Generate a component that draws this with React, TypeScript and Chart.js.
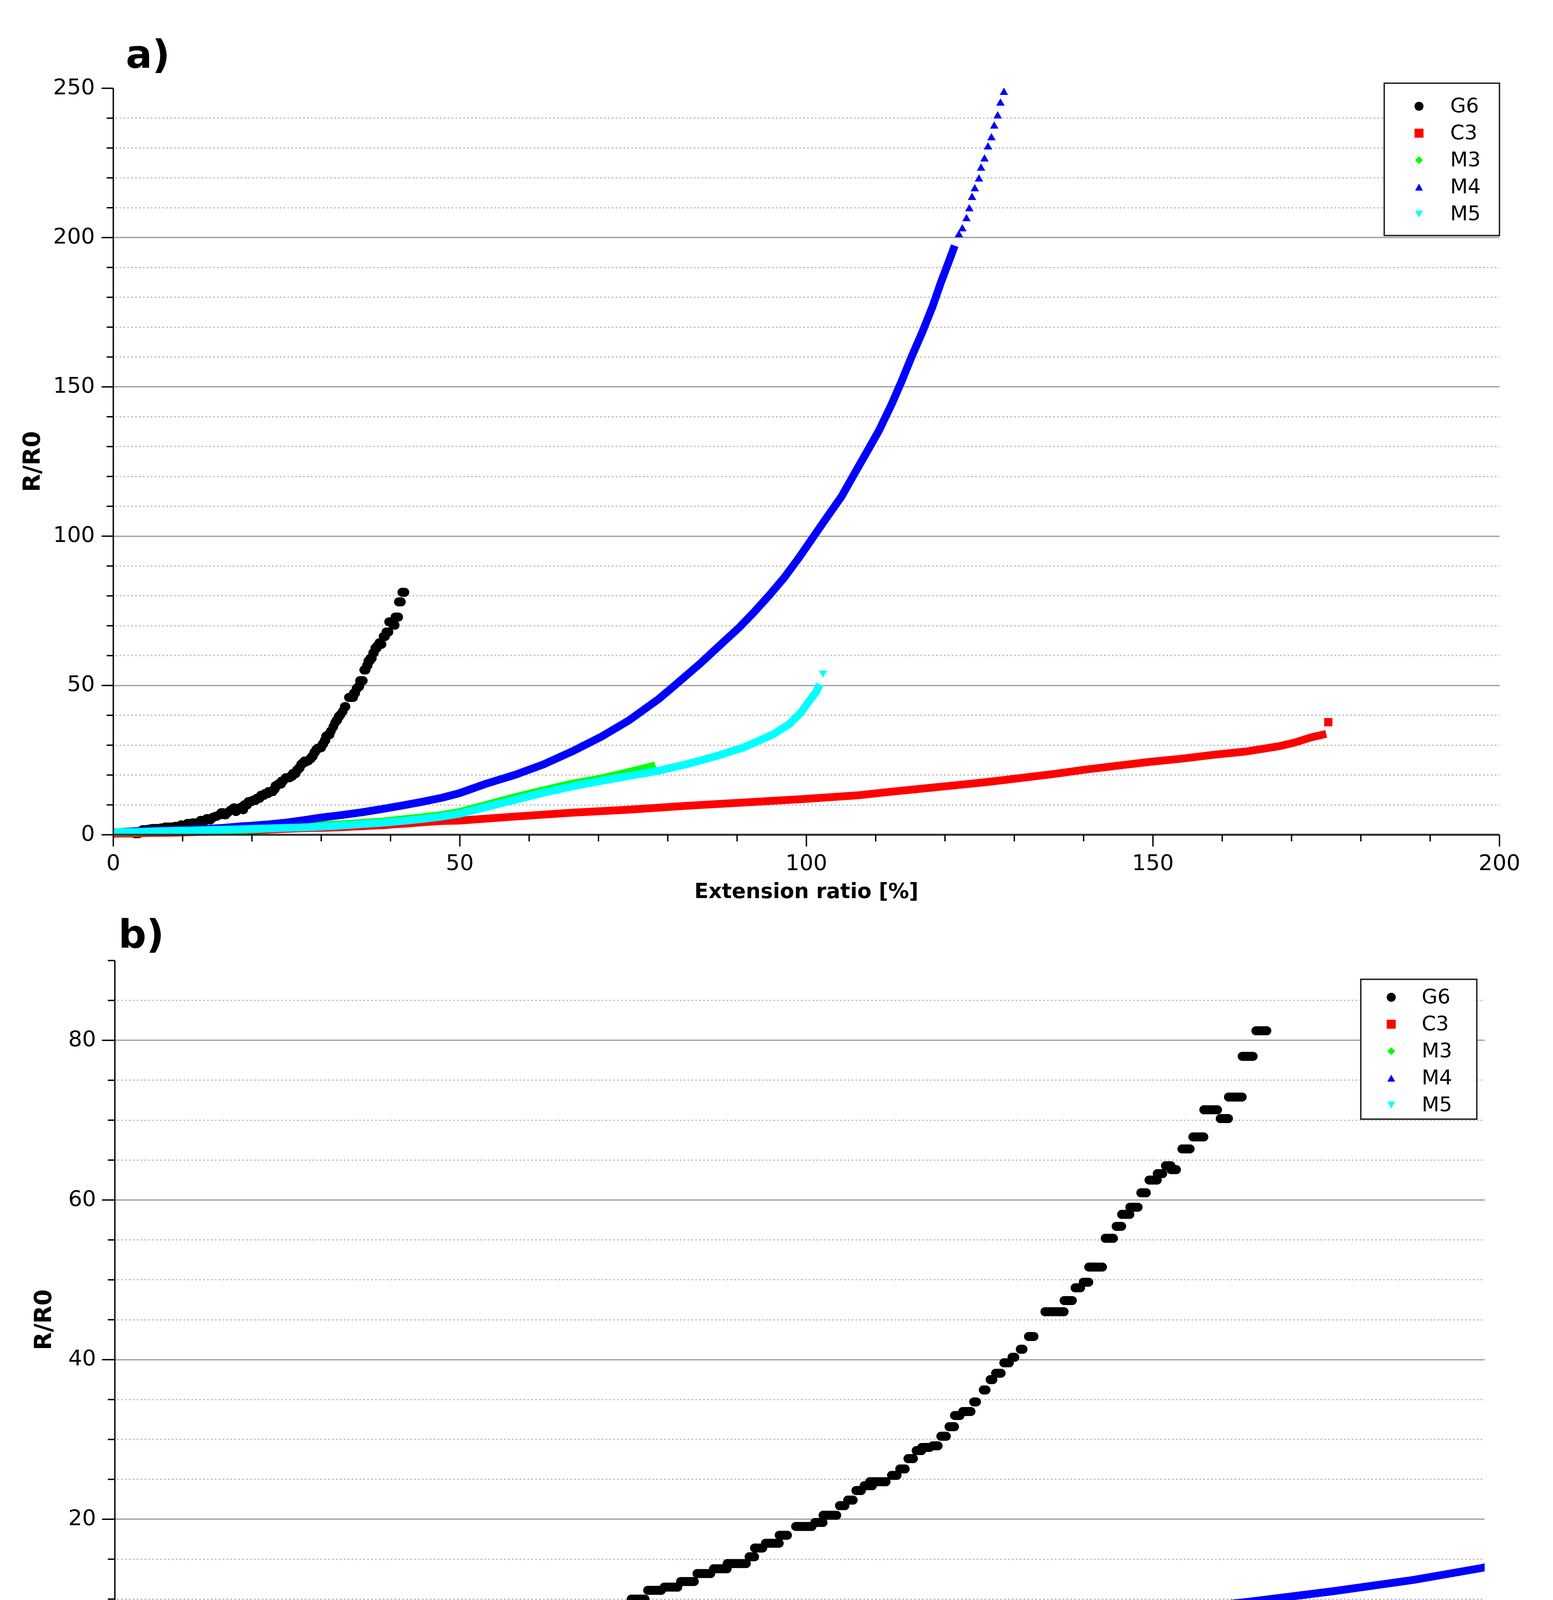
import React, { useEffect, useRef } from 'react';
import { Chart, registerables } from 'chart.js';

Chart.register(...registerables);

const FONT = "'DejaVu Sans', Verdana, sans-serif";

// ---------- series meta ----------
const seriesNames = ['G6', 'C3', 'M3', 'M4', 'M5'];
const seriesColors = ['#000000', '#ff0000', '#00ff00', '#0000ff', '#00ffff'];
const seriesMarkers = ['circle', 'square', 'diamond', 'up', 'down'];

// ---------- G6: runs of equal R/R0 (start x, end x, value) ----------
const g6Start = [3.15, 4.2, 5.1, 5.55, 6.85, 7.45, 8.6, 8.85, 9.75, 10.15, 10.65, 11.45, 12.05, 12.55, 12.95, 13.45, 13.95, 14.35, 14.75, 15.25, 15.55, 16.05, 16.5, 16.85, 17.35, 17.65, 18.05, 18.35, 18.7, 18.85, 19.45, 20.05, 20.65, 21.25, 21.85, 22.35, 23.15, 23.35, 23.75, 24.25, 24.85, 25.55, 25.85, 26.45, 26.75, 27.05, 27.35, 27.55, 28.35, 28.65, 28.95, 29.25, 29.45, 29.85, 30.15, 30.45, 30.65, 30.95, 31.35, 31.7, 31.95, 32.15, 32.45, 32.75, 33.05, 33.35, 33.95, 34.65, 35.05, 35.35, 35.55, 36.15, 36.55, 36.75, 37.05, 37.45, 37.75, 38.05, 38.35, 38.55, 38.95, 39.35, 39.75, 40.35, 40.65, 41.15, 41.65];
const g6End = [3.65, 4.8, 5.65, 6.35, 7.15, 8.35, 8.6, 9.45, 9.85, 10.45, 11.15, 11.75, 12.25, 12.75, 13.15, 13.65, 14.05, 14.55, 14.95, 15.45, 15.85, 16.25, 16.6, 17.05, 17.55, 17.75, 18.15, 18.45, 18.8, 19.35, 19.95, 20.55, 21.15, 21.75, 22.35, 23.05, 23.35, 23.65, 24.25, 24.55, 25.45, 25.85, 26.35, 26.65, 26.95, 27.25, 27.65, 28.15, 28.55, 28.85, 29.15, 29.45, 29.75, 30.05, 30.35, 30.65, 30.85, 31.25, 31.45, 31.8, 32.05, 32.35, 32.65, 32.85, 33.15, 33.55, 34.65, 34.95, 35.25, 35.55, 36.05, 36.45, 36.75, 37.05, 37.35, 37.65, 38.05, 38.25, 38.55, 38.75, 39.25, 39.75, 40.25, 40.65, 41.15, 41.55, 42.05];
const g6Val = [0.35, 1.7, 1.9, 2.1, 2.3, 2.6, 2.2, 2.8, 3.3, 3.0, 3.8, 4.0, 3.0, 4.8, 4.5, 5.4, 5.0, 5.9, 6.2, 6.7, 7.4, 6.7, 7.5, 8.2, 9.0, 7.8, 8.6, 9.2, 8.4, 10.0, 11.1, 11.5, 12.2, 13.2, 13.8, 14.45, 15.3, 16.4, 17.0, 18.0, 19.1, 19.6, 20.5, 21.7, 22.4, 23.6, 24.2, 24.7, 25.5, 26.3, 27.6, 28.6, 29.0, 29.2, 30.4, 31.6, 33.0, 33.5, 34.7, 36.2, 37.5, 38.3, 39.6, 40.3, 41.3, 42.9, 46.0, 47.4, 49.0, 49.7, 51.6, 55.2, 56.7, 58.2, 59.1, 60.9, 62.5, 63.3, 64.3, 63.8, 66.4, 67.9, 71.3, 70.2, 72.9, 78.0, 81.2];

// ---------- C3 ----------
const c3X = [0, 3.7, 4.8, 8.5, 11.2, 14.0, 15.9, 17.5, 21.0, 24.0, 27.0, 31.1, 32.9, 35.8, 37.3, 39.1, 40.5, 42.6, 44.8, 47.4, 49.9, 58.0, 66.2, 74.4, 82.7, 90.9, 99.2, 107.4, 112.2, 116.9, 121.6, 126.2, 130.9, 135.5, 140.2, 144.8, 149.5, 154.2, 158.8, 163.5, 168.1, 170.5, 172.8, 174.3, 175.0];
const c3Y = [0.4, 0.45, 0.6, 0.7, 0.85, 1.0, 1.15, 1.25, 1.6, 1.9, 2.2, 2.4, 2.55, 2.85, 3.05, 3.2, 3.5, 3.8, 4.2, 4.6, 4.75, 6.1, 7.4, 8.4, 9.7, 10.8, 11.9, 13.2, 14.4, 15.5, 16.6, 17.7, 19.0, 20.3, 21.8, 23.1, 24.4, 25.5, 26.8, 27.9, 29.6, 30.9, 32.6, 33.4, 33.8];
const c3LooseX = [175.3];
const c3LooseY = [37.7];

// ---------- M3 ----------
const m3X = [0, 5, 10, 15, 20, 24, 27.1, 32.9, 38.7, 41.6, 44.5, 47.4, 49.9, 53.8, 58.0, 62.1, 66.2, 70.3, 74.4, 77.7, 78.2];
const m3Y = [0.8, 0.9, 1.1, 1.4, 1.8, 2.3, 2.8, 3.5, 4.4, 5.1, 5.8, 6.6, 7.6, 10.0, 12.6, 14.9, 17.1, 18.8, 21.0, 22.9, 23.4];

// ---------- M4 ----------
const m4X = [0.5, 3.4, 5.8, 10, 12.6, 15.8, 18.3, 19.8, 22.5, 25, 27.1, 30, 32.9, 35.8, 38.7, 41.6, 44.5, 47.4, 49.9, 53.8, 58.0, 62.1, 66.2, 70.3, 74.4, 78.6, 80.6, 84.7, 86.0, 88.1, 90.3, 92.5, 94.6, 96.8, 98.9, 101.1, 103.1, 105.1, 106.9, 108.7, 110.5, 112.3, 113.8, 115.2, 116.7, 118.2, 119.4, 120.7, 121.4];
const m4Y = [0.9, 1.2, 1.4, 1.7, 1.9, 2.3, 2.8, 3.0, 3.5, 4.1, 4.75, 5.76, 6.6, 7.5, 8.6, 9.75, 11.0, 12.4, 13.9, 17.1, 20.1, 23.6, 27.9, 32.7, 38.3, 45.3, 49.2, 57.4, 60.2, 64.7, 69.4, 74.7, 80.1, 86.1, 92.7, 100.1, 106.8, 113.4, 120.8, 128.1, 135.5, 144.2, 152.2, 160.2, 168.2, 176.9, 184.9, 192.9, 197.3];
const m4LooseX = [122.0, 122.5, 123.1, 123.5, 123.9, 124.3, 124.9, 125.2, 125.7, 126.2, 126.7, 127.1, 127.6, 128.0, 128.5];
const m4LooseY = [200.9, 202.9, 206.3, 209.6, 213.4, 216.3, 219.6, 223.2, 226.3, 230.3, 233.4, 237.3, 240.7, 245.0, 248.6];

// ---------- M5 ----------
const m5X = [0, 3, 5.4, 8.7, 11.3, 14.2, 17.8, 19.8, 27.1, 30, 32.9, 35.8, 38.7, 41.6, 44.5, 47.4, 49.9, 53.8, 58.0, 62.1, 66.2, 70.3, 74.4, 78.6, 82.7, 86.8, 90.9, 95.1, 97.5, 99.2, 100.4, 101.4, 101.9];
const m5Y = [0.9, 0.9, 1.1, 1.3, 1.4, 1.6, 1.8, 1.95, 2.45, 2.7, 3.1, 3.55, 4.0, 4.6, 5.25, 6.1, 7.0, 9.3, 11.7, 14.1, 16.2, 18.0, 19.7, 21.4, 23.6, 26.2, 29.2, 33.5, 37.0, 40.9, 44.8, 47.8, 50.4];
const m5LooseX = [102.4];
const m5LooseY = [54.2];

// ---------- axes ----------
const xTicksA = [0, 50, 100, 150, 200];
const yTicksA = [0, 50, 100, 150, 200, 250];
const xTicksB = [0, 10, 20, 30, 40, 50];
const yTicksB = [0, 20, 40, 60, 80];
const xTitle = 'Extension ratio [%]';
const yTitle = 'R/R0';

const panels = [
  {
    key: 'a', label: 'a)', labelLeft: 322, labelTop: 90,
    top: 0, height: 2330,
    xMin: 0, xMax: 200, xTicks: xTicksA, xMajor: 50, xMinor: 10,
    yMin: 0, yMax: 250, yTicks: yTicksA, yMajor: 50, yMinor: 10,
    padTop: 226, padRight: 137, yAxisW: 290, xAxisH: 193,
    yTickPad: 47, xTickPad: 42,
    xTitleSize: 53, xTitlePad: 13, yTitleSize: 60, yTitlePad: 50,
    majorLen: 30, minorLen: 17,
    legLeft: 3543, legTop: 213, legW: 295, legH: 390, legMarkX: 3632, legTextX: 3712, legRow0: 272, legGap: 69,
  },
  {
    key: 'b', label: 'b)', labelLeft: 303, labelTop: 2342,
    top: 2330, height: 2203,
    xMin: 0, xMax: 50, xTicks: xTicksB, xMajor: 10, xMinor: 2,
    yMin: 0, yMax: 90, yTicks: yTicksB, yMajor: 20, yMinor: 5,
    padTop: 129, padRight: 175, yAxisW: 294, xAxisH: 235,
    yTickPad: 48, xTickPad: 48,
    xTitleSize: 61, xTitlePad: 48, yTitleSize: 60, yTitlePad: 79,
    majorLen: 33, minorLen: 18,
    legLeft: 3483, legTop: 177, legW: 297, legH: 358, legMarkX: 3561, legTextX: 3639, legRow0: 223, legGap: 69,
  },
];

const CLIP = { left: 0, top: 14, right: 0, bottom: 12 };

function pts(xs: number[], ys: number[]) {
  return xs.map((x, i) => ({ x, y: ys[i] }));
}

function buildDatasets() {
  const g6Data: any[] = [];
  for (let i = 0; i < g6Val.length; i++) {
    g6Data.push({ x: g6Start[i], y: g6Val[i] });
    g6Data.push({ x: g6End[i], y: g6Val[i] });
    g6Data.push({ x: g6End[i], y: null });
  }
  const band = (label: string, xs: number[], ys: number[], color: string, order: number) => ({
    label, data: pts(xs, ys), showLine: true, spanGaps: false,
    borderColor: color, backgroundColor: color, borderWidth: 20,
    borderJoinStyle: 'round', borderCapStyle: 'butt',
    pointRadius: 0, pointHoverRadius: 0, order, clip: CLIP,
  });
  const loose = (label: string, xs: number[], ys: number[], color: string, style: string, radius: number, rotation: number, order: number) => ({
    label, data: pts(xs, ys), showLine: false,
    borderColor: color, backgroundColor: color, borderWidth: 0,
    pointStyle: style, pointRadius: radius, pointRotation: rotation, pointHoverRadius: radius,
    order, clip: CLIP,
  });
  return [
    {
      label: 'G6', data: g6Data, showLine: true, spanGaps: false,
      borderColor: seriesColors[0], backgroundColor: seriesColors[0], borderWidth: 23,
      borderCapStyle: 'butt', pointStyle: 'circle', pointRadius: 11.5, pointHoverRadius: 11.5,
      pointBorderWidth: 0, order: 4, clip: CLIP,
    },
    band('C3', c3X, c3Y, seriesColors[1], 3),
    loose('C3 end', c3LooseX, c3LooseY, seriesColors[1], 'rect', 15, 0, 3),
    band('M3', m3X, m3Y, seriesColors[2], 2),
    band('M4', m4X, m4Y, seriesColors[3], 1),
    loose('M4 end', m4LooseX, m4LooseY, seriesColors[3], 'triangle', 12.5, 0, 1),
    band('M5', m5X, m5Y, seriesColors[4], 0),
    loose('M5 end', m5LooseX, m5LooseY, seriesColors[4], 'triangle', 12.5, 180, 0),
  ];
}

function isMultiple(v: number, step: number) {
  const r = v / step;
  return Math.abs(r - Math.round(r)) < 1e-6;
}

function drawMarker(ctx: CanvasRenderingContext2D, style: string, x: number, y: number, color: string) {
  ctx.fillStyle = color;
  ctx.beginPath();
  if (style === 'circle') {
    ctx.arc(x, y, 11.5, 0, Math.PI * 2);
  } else if (style === 'square') {
    ctx.rect(x - 11.5, y - 11.5, 23, 23);
  } else if (style === 'diamond') {
    ctx.moveTo(x, y - 10); ctx.lineTo(x + 10, y); ctx.lineTo(x, y + 10); ctx.lineTo(x - 10, y); ctx.closePath();
  } else if (style === 'up') {
    ctx.moveTo(x, y - 9); ctx.lineTo(x + 10, y + 9); ctx.lineTo(x - 10, y + 9); ctx.closePath();
  } else {
    ctx.moveTo(x, y + 9); ctx.lineTo(x + 10, y - 9); ctx.lineTo(x - 10, y - 9); ctx.closePath();
  }
  ctx.fill();
}

function makeDecor(p: any) {
  return {
    id: 'decor_' + p.key,
    beforeDatasetsDraw(chart: any) {
      const { ctx, chartArea: ca, scales } = chart;
      const ys = scales.y;
      ctx.save();
      ctx.strokeStyle = '#b4b4b4';
      ctx.lineWidth = 3;
      ctx.setLineDash([4, 6]);
      for (let i = 1; i * p.yMinor < p.yMax - 1e-6; i++) {
        const v = i * p.yMinor;
        if (isMultiple(v, p.yMajor)) continue;
        const py = Math.round(ys.getPixelForValue(v));
        ctx.beginPath(); ctx.moveTo(ca.left + 6, py); ctx.lineTo(ca.right, py); ctx.stroke();
      }
      ctx.setLineDash([]);
      ctx.strokeStyle = '#a4a4a4';
      ctx.lineWidth = 3.5;
      for (let i = 1; i * p.yMajor < p.yMax - 1e-6; i++) {
        const py = Math.round(ys.getPixelForValue(i * p.yMajor));
        ctx.beginPath(); ctx.moveTo(ca.left, py); ctx.lineTo(ca.right, py); ctx.stroke();
      }
      ctx.restore();
    },
    afterDatasetsDraw(chart: any) {
      const { ctx, chartArea: ca, scales } = chart;
      const xs = scales.x, ys = scales.y;
      const y0 = ys.getPixelForValue(p.yMin);
      ctx.save();
      // y axis
      ctx.strokeStyle = '#000';
      ctx.lineWidth = 3.5;
      ctx.beginPath(); ctx.moveTo(ca.left, y0); ctx.lineTo(ca.left, ys.getPixelForValue(p.yMax)); ctx.stroke();
      for (let i = 0; i * p.yMinor <= p.yMax + 1e-6; i++) {
        const v = i * p.yMinor;
        const len = isMultiple(v, p.yMajor) ? p.majorLen : p.minorLen;
        const py = ys.getPixelForValue(v);
        ctx.beginPath(); ctx.moveTo(ca.left - len, py); ctx.lineTo(ca.left, py); ctx.stroke();
      }
      // x axis
      ctx.strokeStyle = '#2c2c2c';
      ctx.lineWidth = 5;
      ctx.beginPath(); ctx.moveTo(ca.left, y0); ctx.lineTo(ca.right, y0); ctx.stroke();
      ctx.strokeStyle = '#000';
      ctx.lineWidth = 3.5;
      for (let i = 0; i * p.xMinor <= p.xMax + 1e-6; i++) {
        const v = i * p.xMinor;
        const len = isMultiple(v, p.xMajor) ? p.majorLen : p.minorLen;
        const px = xs.getPixelForValue(v);
        ctx.beginPath(); ctx.moveTo(px, y0); ctx.lineTo(px, y0 + len); ctx.stroke();
      }
      // legend box
      ctx.fillStyle = '#fff';
      ctx.fillRect(p.legLeft, p.legTop, p.legW, p.legH);
      ctx.strokeStyle = '#1a1a1a';
      ctx.lineWidth = 3.5;
      ctx.strokeRect(p.legLeft, p.legTop, p.legW, p.legH);
      ctx.font = '52px ' + FONT;
      ctx.textBaseline = 'middle';
      ctx.textAlign = 'left';
      for (let i = 0; i < seriesNames.length; i++) {
        const ry = p.legRow0 + i * p.legGap;
        drawMarker(ctx, seriesMarkers[i], p.legMarkX, ry, seriesColors[i]);
        ctx.fillStyle = '#000';
        ctx.fillText(seriesNames[i], p.legTextX, ry + 2);
      }
      ctx.restore();
    },
  };
}

function makeConfig(p: any): any {
  return {
    type: 'scatter',
    data: { datasets: buildDatasets() },
    options: {
      animation: false,
      responsive: false,
      devicePixelRatio: 1,
      events: [],
      layout: { padding: { top: p.padTop, right: p.padRight, left: 0, bottom: 0 } },
      plugins: { legend: { display: false }, tooltip: { enabled: false } },
      scales: {
        x: {
          type: 'linear', min: p.xMin, max: p.xMax,
          afterBuildTicks: (s: any) => { s.ticks = p.xTicks.map((v: number) => ({ value: v })); },
          afterFit: (s: any) => { s.height = p.xAxisH; },
          grid: { display: false, drawTicks: false },
          border: { display: false },
          ticks: { color: '#000', padding: p.xTickPad, maxRotation: 0, autoSkip: false, font: { family: FONT, size: 56 } },
          title: { display: true, text: xTitle, color: '#000', font: { family: FONT, size: p.xTitleSize, weight: 'bold' }, padding: { top: 0, bottom: p.xTitlePad } },
        },
        y: {
          type: 'linear', min: p.yMin, max: p.yMax,
          afterBuildTicks: (s: any) => { s.ticks = p.yTicks.map((v: number) => ({ value: v })); },
          afterFit: (s: any) => { s.width = p.yAxisW; },
          grid: { display: false, drawTicks: false },
          border: { display: false },
          ticks: { color: '#000', padding: p.yTickPad, autoSkip: false, font: { family: FONT, size: 56 } },
          title: { display: true, text: yTitle, color: '#000', font: { family: FONT, size: p.yTitleSize, weight: 'bold' }, padding: { top: p.yTitlePad, bottom: 0 } },
        },
      },
    },
    plugins: [makeDecor(p)],
  };
}

function Panel({ p }: { p: any }) {
  const ref = useRef<HTMLCanvasElement | null>(null);
  useEffect(() => {
    if (!ref.current) return;
    const chart = new Chart(ref.current, makeConfig(p));
    return () => chart.destroy();
  }, [p]);
  return (
    <canvas
      ref={ref}
      width={3975}
      height={p.height}
      style={{ position: 'absolute', left: 0, top: p.top, width: 3975, height: p.height }}
    />
  );
}

export default function App() {
  return (
    <div style={{ position: 'absolute', left: 0, top: 0, width: 3975, height: 4533, background: '#fff', overflow: 'hidden' }}>
      {panels.map((p) => (
        <React.Fragment key={p.key}>
          <Panel p={p} />
          <div
            style={{
              position: 'absolute', left: p.labelLeft, top: p.labelTop,
              fontFamily: FONT, fontWeight: 'bold', fontSize: 100, lineHeight: '100px', color: '#000',
            }}
          >
            {p.label}
          </div>
        </React.Fragment>
      ))}
    </div>
  );
}
